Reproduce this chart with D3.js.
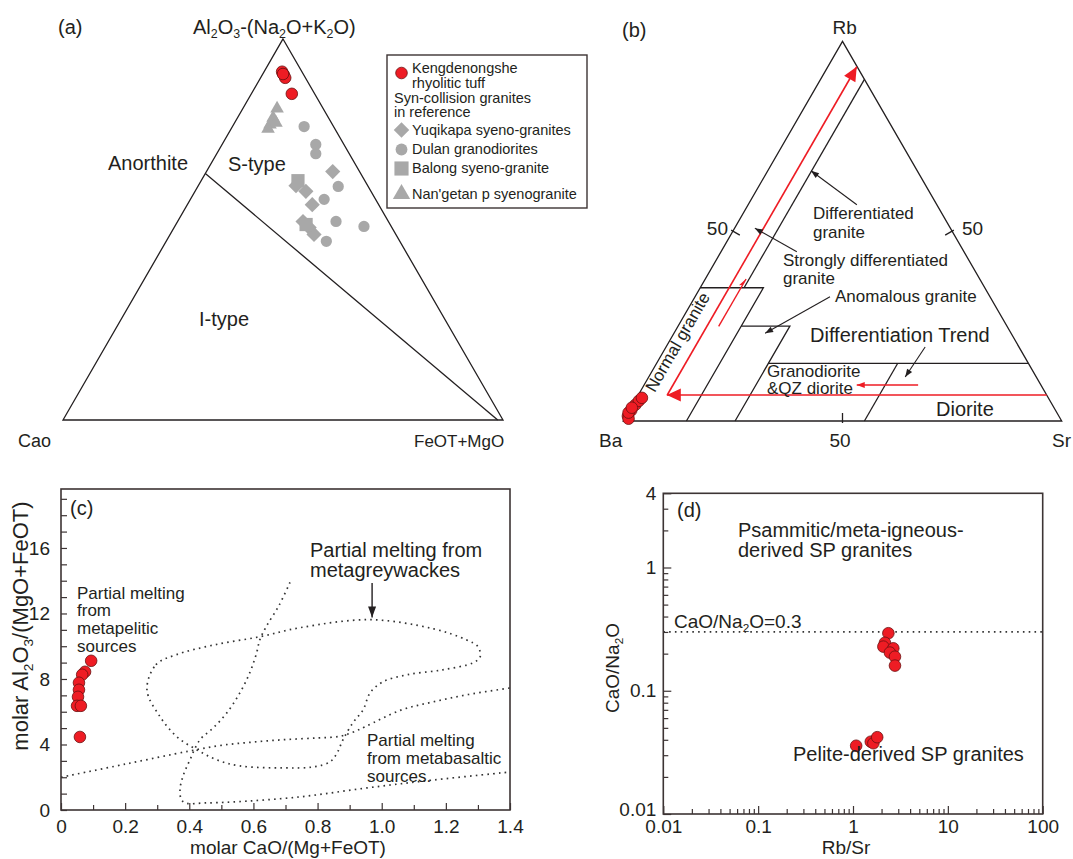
<!DOCTYPE html>
<html><head><meta charset="utf-8">
<script src="https://cdn.jsdelivr.net/npm/d3@7"></script>
<style>
body{margin:0;background:#fff}
svg{display:block;font-family:"Liberation Sans",Arial,sans-serif}
</style></head><body>
<svg id="fig" width="1073" height="859"></svg>
<script>
// ---------- data ----------
// (a) ACF ternary: [A, C, F] = Al2O3-(Na2O+K2O), CaO, FeOT+MgO (%)
const kengA = [[91.4,4.5,4.1],[90.6,4.5,4.9],[89.8,4.6,5.6],[90.8,4.6,4.6],[85.6,5.2,9.2]];
const yuqikapa = [[65.2,6.1,28.7],[61.5,16.3,22.2],[60.0,14.8,25.2],[56.5,15.1,28.4],[52.1,19.4,28.5],[50.5,18.8,30.7],[48.7,18.6,32.7]];
const dulan = [[77.0,6.7,16.3],[72.3,6.4,21.3],[69.9,7.6,22.5],[61.3,6.8,31.9],[57.9,11.7,30.4],[52.1,11.9,36.0],[50.8,6.2,43.0],[46.9,16.7,36.4]];
const balong = [[62.8,15.2,22.0],[51.3,19.1,29.6]];
const nangetan = [[81.7,10.5,7.8],[79.3,12.6,8.1],[77.5,14.2,8.3],[78.0,12.6,9.4],[76.4,15.2,8.4]];
const acfBoundary = [[64.7,35.3,0],[0,1.2,98.8]];

// (b) Rb-Ba-Sr ternary: [Rb, Ba, Sr] (%)
const kengB = [[1.3,98.3,0.4],[2.8,96.8,0.4],[4.2,93.2,0.6],[5.3,93.8,0.9],[6.1,92.7,1.2],[0.6,98.5,0.9],[2.2,97.7,0.1],[3.5,96.3,0.2]];
const rbFields = [
  [[90,0,10],[35.1,54.9,10]],
  [[35.1,64.9,0],[35.1,50.5,14.4],[0,85.6,14.4]],
  [[25,60.6,14.4],[25,49.5,25.5],[0,74.5,25.5]],
  [[15.2,59.3,25.5],[15.2,0,84.8]],
  [[15.2,29.8,55],[0,45,55]]
];
const trendBase = [[6.85,0,93.15],[6.85,86.65,6.5]];
const trendUp = [[6.85,86.55,6.6],[93.3,0.1,6.6]];
const trendShort = [[24.9,65.8,9.3],[37.4,53.3,9.3]];
const trendGd = [[9.5,28,62.5],[9.5,42,48.5]];
const pointers = [
  [[56.95,18.25,24.8],[65.9,24.24,9.86]],
  [[44.56,38.14,17.3],[50.8,44.6,4.6]],
  [[32.7,36.5,30.8],[23.1,56.1,20.8]],
  [[19.5,21.4,59.1],[11.6,29.9,58.5]]
];

// (c) molar CaO/(Mg+FeOT) vs molar Al2O3/(MgO+FeOT)
const kengC = [[0.094,9.11],[0.075,8.44],[0.066,8.26],[0.056,7.77],[0.056,7.34],[0.053,6.91],[0.050,6.36],[0.062,6.36],[0.059,4.46]];
const greywacke = [[0.268,7.34],[0.296,8.87],[0.359,9.48],[0.48,10.09],[0.62,10.58],[0.745,11.13],[0.964,11.62],[1.16,11.07],[1.263,10.4],[1.30,9.97],[1.307,9.36],[1.285,8.99],[1.19,8.56],[1.08,8.26],[1.004,7.83],[0.964,7.16],[0.942,6.12],[0.91,5.32],[0.879,4.28],[0.861,3.49],[0.839,2.94],[0.786,2.63],[0.692,2.57],[0.558,2.69],[0.486,3.06],[0.424,3.67],[0.362,4.46],[0.309,5.69]];
const basaltTop = [[0,2.0],[0.2,2.8],[0.4,3.6],[0.5,3.95],[0.6,4.15],[0.7,4.3],[0.8,4.4],[0.87,4.5],[0.91,4.75],[0.95,5.1],[1.06,6.1],[1.16,6.6],[1.27,7.05],[1.4,7.45]];
const basaltLow = [[0.714,13.9],[0.68,12.5],[0.64,11.2],[0.62,10.4],[0.61,9.6],[0.589,8.4],[0.558,7.16],[0.517,5.93],[0.474,5.0],[0.433,4.28],[0.402,3.06],[0.38,2.04],[0.371,1.22],[0.376,0.61],[0.392,0.41],[0.449,0.43],[0.536,0.49],[0.745,0.8],[0.954,1.35],[1.16,1.83],[1.4,2.32]];
const greyArrow = [[0.97,13.86],[0.97,11.75]];
const cxMajor = [0,0.2,0.4,0.6,0.8,1.0,1.2,1.4];
const cxMinor = [0.1,0.3,0.5,0.7,0.9,1.1,1.3];
const cyTicks = d3.range(0,20);
const cyLabels = [0,4,8,12,16];

// (d) Rb/Sr vs CaO/Na2O
const kengD = [[2.36,0.293],[2.17,0.245],[2.09,0.228],[2.66,0.221],[2.45,0.204],[2.77,0.189],[2.77,0.160],[1.08,0.0358],[1.54,0.0386],[1.64,0.0375],[1.80,0.0420]];
const cacLimit = 0.3;
const dxLabels = [0.01,0.1,1,10,100];
const dyLabels = [0.01,0.1,1,4];

// ---------- helpers ----------
const INK = '#231f20', RED = '#ee1c24', GREY = '#a8a8a8', FRAME = '#3d3434';
const svg = d3.select('#fig');
svg.append('rect').attr('width',1073).attr('height',859).attr('fill','#fff');

function txt(g, x, y, s, size, o = {}) {
  const t = g.append('text').attr('x', x).attr('y', y).attr('font-size', size)
    .attr('text-anchor', o.anchor || 'start').attr('fill', INK);
  if (o.rotate) t.attr('transform', `rotate(${o.rotate},${x},${y})`);
  let shifted = false;
  s.split(/(_\d)/).filter(p => p !== '').forEach(p => {
    if (p[0] === '_') {
      t.append('tspan').attr('font-size', size * 0.62).attr('dy', size * 0.22).text(p.slice(1));
      shifted = true;
    } else {
      t.append('tspan').attr('dy', shifted ? -size * 0.22 : null).text(p);
      shifted = false;
    }
  });
  return t;
}

function ternary(left, right) {
  const h = (right[0] - left[0]) * Math.sqrt(3) / 2;
  const sx = d3.scaleLinear().domain([0, 1]).range([left[0], right[0]]);
  const sy = d3.scaleLinear().domain([0, 1]).range([left[1], left[1] - h]);
  return p => {
    const s = p[0] + p[1] + p[2];
    const a = p[0] / s, r = p[2] / s;
    return [sx(r + a / 2), sy(a)];
  };
}

const defs = svg.append('defs');
function marker(id, color, d, w) {
  defs.append('marker').attr('id', id).attr('markerUnits', 'userSpaceOnUse')
    .attr('viewBox', `${-w - 1} -8 ${w + 2} 16`).attr('markerWidth', w + 2).attr('markerHeight', 16)
    .attr('refX', 0).attr('refY', 0).attr('orient', 'auto')
    .append('path').attr('d', d).attr('fill', color);
}
marker('redBig', RED, 'M0,0L-14,-6.5L-14,6.5Z', 14);
marker('redSmall', RED, 'M0,0L-8,-3L-8,3Z', 8);
marker('redHalf', RED, 'M0,0L-9,-3L-7,0Z', 9);
marker('inkSmall', INK, 'M0,0L-8,-3L-8,3Z', 8);
marker('inkArrow', INK, 'M0,0L-11,-4L-11,4Z', 11);

const line = d3.line();

function dot(g, pts, r = 5.8) {
  g.selectAll(null).data(pts).enter().append('circle')
    .attr('cx', d => d[0]).attr('cy', d => d[1]).attr('r', r)
    .attr('fill', RED).attr('stroke', '#6b1010').attr('stroke-width', 0.8);
}

// ---------- (a) ----------
const gA = svg.append('g');
const pA = ternary([63, 420], [503, 420]);
gA.append('path').attr('d', line([[100,0,0],[0,100,0],[0,0,100]].map(pA)) + 'Z')
  .attr('fill', 'none').attr('stroke', INK).attr('stroke-width', 1.3);
gA.append('path').attr('d', line(acfBoundary.map(pA)))
  .attr('fill', 'none').attr('stroke', INK).attr('stroke-width', 1.3);

const sym = (type, size) => d3.symbol().type(type).size(size)();
function shapes(g, pts, type, size, rot) {
  g.selectAll(null).data(pts).enter().append('path')
    .attr('d', sym(type, size))
    .attr('transform', d => `translate(${d[0]},${d[1]})${rot ? ' rotate(45)' : ''}`)
    .attr('fill', GREY);
}
shapes(gA, nangetan.map(pA), d3.symbolTriangle, 80);
shapes(gA, dulan.map(pA), d3.symbolCircle, 100);
shapes(gA, yuqikapa.map(pA), d3.symbolSquare, 115, true);
shapes(gA, balong.map(pA), d3.symbolSquare, 175);
dot(gA, kengA.map(pA));

txt(gA, 58, 34, '(a)', 20);
txt(gA, 193, 34, 'Al_2O_3-(Na_2O+K_2O)', 20);
txt(gA, 108, 170, 'Anorthite', 20);
txt(gA, 228, 171, 'S-type', 20);
txt(gA, 199, 326, 'I-type', 20);
txt(gA, 18, 447, 'Cao', 18);
txt(gA, 414, 447, 'FeOT+MgO', 17);

// legend
const lg = svg.append('g');
lg.append('rect').attr('x', 387).attr('y', 55).attr('width', 200).attr('height', 153)
  .attr('fill', '#fff').attr('stroke', FRAME).attr('stroke-width', 1.4);
dot(lg, [[401.5, 73]], 5.8);
shapes(lg, [[401.5, 130]], d3.symbolSquare, 120, true);
shapes(lg, [[401.5, 149.5]], d3.symbolCircle, 110);
shapes(lg, [[401.5, 168.5]], d3.symbolSquare, 200);
shapes(lg, [[401.5, 194]], d3.symbolTriangle, 130);
txt(lg, 412, 73, 'Kengdenongshe', 14.5);
txt(lg, 412, 88, 'rhyolitic tuff', 14.5);
txt(lg, 394, 103, 'Syn-collision granites', 14.5);
txt(lg, 394, 117, 'in  reference', 14.5);
txt(lg, 412, 135, 'Yuqikapa syeno-granites', 14.5);
txt(lg, 412, 154, 'Dulan granodiorites', 14.5);
txt(lg, 412, 173, 'Balong syeno-granite', 14.5);
txt(lg, 412, 199, "Nan'getan p syenogranite", 14.5);

// ---------- (b) ----------
const gB = svg.append('g');
const pB = ternary([623.3, 421], [1061.7, 421]);
gB.append('path').attr('d', line([[100,0,0],[0,100,0],[0,0,100]].map(pB)) + 'Z')
  .attr('fill', 'none').attr('stroke', INK).attr('stroke-width', 1.3);
rbFields.forEach(f => gB.append('path').attr('d', line(f.map(pB)))
  .attr('fill', 'none').attr('stroke', INK).attr('stroke-width', 1.3));

// 50% ticks
[[[50,50,0],[0.866,0.5]],[[50,0,50],[-0.866,0.5]],[[0,50,50],[0,-1]]].forEach(([p, n]) => {
  const c = pB(p);
  gB.append('line').attr('x1', c[0] - 2 * n[0]).attr('y1', c[1] - 2 * n[1])
    .attr('x2', c[0] + 8 * n[0]).attr('y2', c[1] + 8 * n[1])
    .attr('stroke', INK).attr('stroke-width', 1.3);
});

const redLine = (pts, m, w = 1.6) => gB.append('path').attr('d', line(pts.map(pB)))
  .attr('fill', 'none').attr('stroke', RED).attr('stroke-width', w).attr('marker-end', `url(#${m})`);
redLine(trendBase, 'redBig');
redLine(trendUp, 'redBig');
redLine(trendShort, 'redHalf', 1.4);
redLine(trendGd, 'redSmall', 1.4);
pointers.forEach(pt => gB.append('path').attr('d', line(pt.map(pB)))
  .attr('fill', 'none').attr('stroke', INK).attr('stroke-width', 1.1).attr('marker-end', 'url(#inkSmall)'));

dot(gB, kengB.map(pB));

txt(gB, 622, 37, '(b)', 20);
txt(gB, 844.7, 34, 'Rb', 19, { anchor: 'middle' });
txt(gB, 599, 447, 'Ba', 19);
txt(gB, 1052, 447, 'Sr', 19);
txt(gB, 728, 235, '50', 19, { anchor: 'end' });
txt(gB, 962, 235, '50', 19);
txt(gB, 840, 447, '50', 19, { anchor: 'middle' });
txt(gB, 813, 219, 'Differentiated', 17);
txt(gB, 813, 238, 'granite', 17);
txt(gB, 783, 266, 'Strongly differentiated', 17);
txt(gB, 783, 284, 'granite', 17);
txt(gB, 835, 302, 'Anomalous granite', 17);
txt(gB, 810, 342, 'Differentiation Trend', 20);
txt(gB, 767, 377, 'Granodiorite', 17);
txt(gB, 767, 394, '&QZ diorite', 17);
txt(gB, 936, 416, 'Diorite', 20);
txt(gB, 682.5, 345, 'Normal granite', 17, { anchor: 'middle', rotate: -60 });

// ---------- (c) ----------
const gC = svg.append('g');
const xC = d3.scaleLinear().domain([0, 1.4]).range([61, 510]);
const yC = d3.scaleLinear().domain([0, 19.6]).range([810, 489]);
const tickFont = sel => sel.selectAll('text').attr('font-size', 19).attr('fill', INK)
  .style('font-family', '"Liberation Sans",Arial,sans-serif');
const cleanAxis = sel => { sel.select('.domain').remove(); sel.selectAll('.tick line').attr('stroke', FRAME).attr('stroke-width', 1.2); };

gC.append('g').attr('transform', 'translate(0,810)')
  .call(d3.axisBottom(xC).tickValues(cxMinor).tickSize(-5).tickFormat(''))
  .call(cleanAxis);
gC.append('g').attr('transform', 'translate(0,810)')
  .call(d3.axisBottom(xC).tickValues(cxMajor).tickSize(-7).tickPadding(10)
    .tickFormat(d => d === 0 ? '0' : d3.format('.1f')(d)))
  .call(cleanAxis).call(tickFont);
gC.append('g').attr('transform', 'translate(61,0)')
  .call(d3.axisLeft(yC).tickValues(cyTicks).tickSize(-6)
    .tickPadding(11).tickFormat(d => cyLabels.includes(d) ? d : ''))
  .call(cleanAxis).call(tickFont);

const dotted = { stroke: '#333', 'stroke-width': 1.7, 'stroke-dasharray': '1.6,4.2', fill: 'none' };
const styleDots = p => Object.entries(dotted).forEach(([k, v]) => p.attr(k, v));
const lc = d3.line().x(d => xC(d[0])).y(d => yC(d[1]));
gC.append('path').attr('d', lc.curve(d3.curveCatmullRomClosed)(greywacke)).call(styleDots);
gC.append('path').attr('d', lc.curve(d3.curveCatmullRom)(basaltTop)).call(styleDots);
gC.append('path').attr('d', lc.curve(d3.curveCatmullRom)(basaltLow)).call(styleDots);
gC.append('path').attr('d', d3.line().x(d => xC(d[0])).y(d => yC(d[1]))(greyArrow))
  .attr('stroke', INK).attr('stroke-width', 1.4).attr('fill', 'none').attr('marker-end', 'url(#inkArrow)');

dot(gC, kengC.map(d => [xC(d[0]), yC(d[1])]));

gC.append('rect').attr('x', 61).attr('y', 489).attr('width', 449).attr('height', 321)
  .attr('fill', 'none').attr('stroke', FRAME).attr('stroke-width', 1.6);

txt(gC, 70, 515, '(c)', 20);
txt(gC, 310, 557, 'Partial melting from', 20);
txt(gC, 310, 577, 'metagreywackes', 20);
txt(gC, 77, 599, 'Partial melting', 17);
txt(gC, 77, 616, 'from', 17);
txt(gC, 77, 634, 'metapelitic', 17);
txt(gC, 77, 652, 'sources', 17);
txt(gC, 367, 746, 'Partial melting', 17);
txt(gC, 367, 764, 'from metabasaltic', 17);
txt(gC, 367, 782, 'sources.', 17);
txt(gC, 288, 854, 'molar CaO/(Mg+FeOT)', 19, { anchor: 'middle' });
txt(gC, 28, 626, 'molar Al_2O_3/(MgO+FeOT)', 22, { anchor: 'middle', rotate: -90 });

// ---------- (d) ----------
const gD = svg.append('g');
const xD = d3.scaleLog().domain([0.01, 100]).range([663.3, 1042.7]);
const yD = d3.scaleLog().domain([0.01, 4]).range([814, 493.3]);
const logMinor = (lo, hi) => d3.range(Math.log10(lo), Math.log10(hi)).flatMap(e => d3.range(2, 10).map(m => m * Math.pow(10, e)));

gD.append('g').attr('transform', 'translate(0,814)')
  .call(d3.axisBottom(xD).tickValues(logMinor(0.01, 100)).tickSize(-5).tickFormat(''))
  .call(cleanAxis);
gD.append('g').attr('transform', 'translate(0,814)')
  .call(d3.axisBottom(xD).tickValues(dxLabels).tickSize(-8).tickPadding(6).tickFormat(d => String(d)))
  .call(cleanAxis).call(tickFont);
gD.append('g').attr('transform', 'translate(663.3,0)')
  .call(d3.axisLeft(yD).tickValues(logMinor(0.01, 10).filter(v => v < 4)).tickSize(-5).tickFormat(''))
  .call(cleanAxis);
const yAxD = gD.append('g').attr('transform', 'translate(663.3,0)')
  .call(d3.axisLeft(yD).tickValues(dyLabels).tickSize(-8).tickPadding(7).tickFormat(d => String(d)))
  .call(cleanAxis).call(tickFont);
// lift the lowest label a touch so it clears the x-axis "0.01"
yAxD.selectAll('.tick text').filter(d => d === 0.01).attr('dy', '0.1em');

gD.append('line').attr('x1', xD(0.01)).attr('x2', xD(100)).attr('y1', yD(cacLimit)).attr('y2', yD(cacLimit))
  .call(styleDots);

dot(gD, kengD.map(d => [xD(d[0]), yD(d[1])]));

gD.append('rect').attr('x', 663.3).attr('y', 493.3).attr('width', 379.4).attr('height', 320.7)
  .attr('fill', 'none').attr('stroke', FRAME).attr('stroke-width', 1.6);

txt(gD, 677, 517, '(d)', 20);
txt(gD, 738, 537, 'Psammitic/meta-igneous-', 20);
txt(gD, 738, 557, 'derived SP granites', 20);
txt(gD, 674, 628, 'CaO/Na_2O=0.3', 19);
txt(gD, 793, 761, 'Pelite-derived SP granites', 20);
txt(gD, 846, 854, 'Rb/Sr', 19, { anchor: 'middle' });
txt(gD, 619, 668, 'CaO/Na_2O', 19, { anchor: 'middle', rotate: -90 });
</script>
</body></html>
